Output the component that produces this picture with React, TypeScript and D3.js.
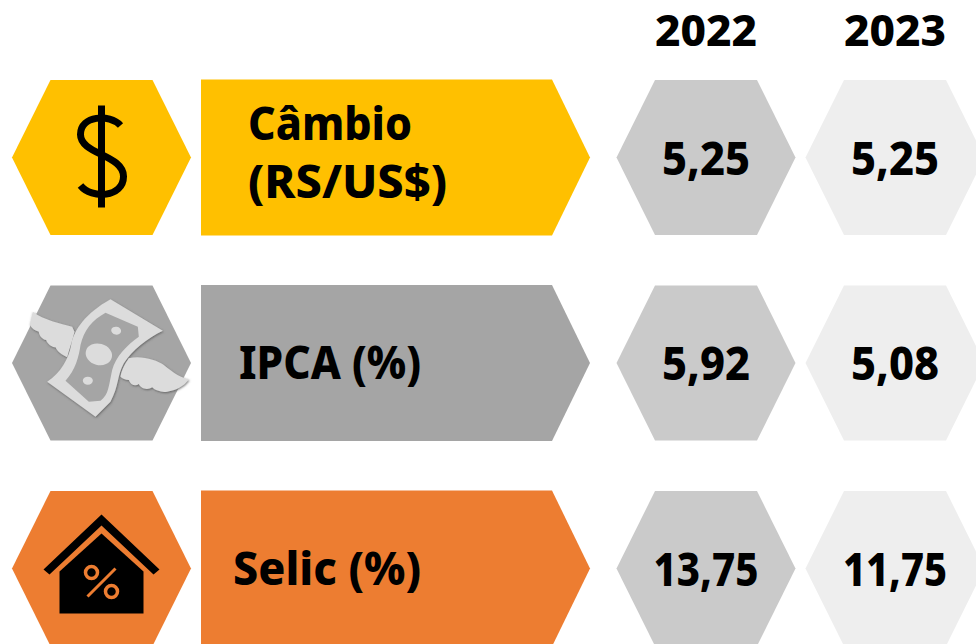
import { useEffect, useRef } from 'react'
import * as d3 from 'd3'

const years = ['2022', '2023']
const indicators = ['Câmbio', 'IPCA', 'Selic']
const labelLines = [['Câmbio', '(RS/US$)'], ['IPCA (%)'], ['Selic (%)']]
const labelX = [248, 239, 233]
const values2022 = ['5,25', '5,92', '13,75']
const values2023 = ['5,25', '5,08', '11,75']
const rowColors = ['#ffc000', '#a5a5a5', '#ed7d31']
const yearColors = ['#cacaca', '#eeeeee']

const FONT = '"Noto Sans", sans-serif'
const W = 976
const H = 644

// icon outlines, traced at 3x around the hexagon centre
const billOuter = 'M330,88 L487,182 C440,205 395,240 370,280 C350,315 355,350 330,395 L285,440 L140,335 C180,310 205,265 212,225 C220,180 255,130 330,88 Z'
const billInner = 'M315,128 L412,170 L415,200 C380,225 345,260 335,300 C325,345 325,375 300,392 L265,395 L195,332 C225,300 235,260 240,225 C250,180 275,150 315,128 Z'
const wingLeft = 'M97,125 C130,150 180,160 215,170 L222,185 C215,215 205,240 200,262 C185,255 170,245 165,232 C155,232 140,222 137,210 C125,208 115,195 115,185 C100,180 85,170 90,155 Z'
const wingRight = 'M385,265 C420,255 470,270 490,285 C520,310 545,325 565,328 C550,350 525,362 500,365 C485,368 465,362 455,352 C440,362 420,355 415,342 C405,350 390,345 385,330 C375,330 365,325 360,320 C365,295 375,280 385,265 Z'
const billSpots = [[347, 182, 15, 12, 10], [295, 253, 40, 32, 15], [262, 332, 15, 12, 0]]
const roof: [number, number][] = [[-58, 1], [0, -54], [58, 1], [52, 6], [0, -43], [-52, 6]]
const house: [number, number][] = [[-42, 3], [0, -35], [42, 3], [42, 45], [-42, 45]]

const closed = d3.line().curve(d3.curveLinearClosed)

function hexagon(cx: number, cy: number) {
  const hw = 89.5
  const inset = 38.5
  const hh = 77.5
  return closed([
    [cx - hw, cy], [cx - hw + inset, cy - hh], [cx + hw - inset, cy - hh],
    [cx + hw, cy], [cx + hw - inset, cy + hh], [cx - hw + inset, cy + hh],
  ])
}

// the reference font is narrower than Noto Sans, so text is fitted by width
function fit(sel: any, width: number) {
  return sel.attr('textLength', width).attr('lengthAdjust', 'spacingAndGlyphs')
}

function App() {
  const svgRef = useRef<SVGSVGElement>(null)

  useEffect(() => {
    const svg = d3.select(svgRef.current)
    svg.selectAll('*').remove()

    const rowY = d3.scalePoint<string>().domain(indicators).range([157.5, 568.5])
    const colX = d3.scalePoint<string>().domain(years).range([706, 895])
    const iconX = 101.5

    const labelWidths = [[164, 199], [182], [188]]
    const valueWidths = [[88, 88], [88, 88], [105, 104]]

    const defs = svg.append('defs')
    const shadow = defs.append('filter').attr('id', 'bill-shadow').attr('x', '-20%').attr('y', '-20%').attr('width', '150%').attr('height', '150%')
    shadow.append('feDropShadow').attr('dx', 2).attr('dy', 3).attr('stdDeviation', 3).attr('flood-color', '#555').attr('flood-opacity', 0.8)

    // year headers
    years.forEach((year) => {
      fit(svg.append('text')
        .attr('class', 'year')
        .attr('x', colX(year)!)
        .attr('y', 46)
        .attr('text-anchor', 'middle')
        .attr('font-family', FONT)
        .attr('font-weight', 800)
        .attr('font-size', 43)
        .text(year), 102)
    })

    indicators.forEach((name, i) => {
      const cy = rowY(name)!
      const row = svg.append('g').attr('class', 'row')

      row.append('path').attr('d', hexagon(iconX, cy)).attr('fill', rowColors[i])

      // arrow shaped label
      row.append('path')
        .attr('d', closed([[201, cy - 78], [552, cy - 78], [590, cy], [552, cy + 78], [201, cy + 78]]))
        .attr('fill', rowColors[i])

      const lines = labelLines[i]
      lines.forEach((line, j) => {
        fit(row.append('text')
          .attr('x', labelX[i])
          .attr('y', lines.length > 1 ? cy - 18 + j * 58 : cy + 16)
          .attr('font-family', FONT)
          .attr('font-weight', 800)
          .attr('font-size', 46)
          .text(line), labelWidths[i][j])
      })

      const vals = [values2022[i], values2023[i]]
      years.forEach((year, k) => {
        const cx = colX(year)!
        row.append('path').attr('d', hexagon(cx, cy)).attr('fill', yearColors[k])
        fit(row.append('text')
          .attr('x', cx)
          .attr('y', cy + 17)
          .attr('text-anchor', 'middle')
          .attr('font-family', FONT)
          .attr('font-weight', 800)
          .attr('font-size', 46)
          .text(vals[k]), valueWidths[i][k])
      })

      const icon = row.append('g').attr('transform', `translate(${iconX},${cy})`)
      if (i === 0) {
        icon.append('path')
          .attr('d', 'M19,-32 C8,-44 -21,-42 -21,-23 C-21,-3 22,-3 22,19 C22,40 -10,42 -21,28')
          .attr('fill', 'none')
          .attr('stroke', '#000')
          .attr('stroke-width', 7)
        icon.append('line').attr('x1', 0).attr('x2', 0).attr('y1', -52).attr('y2', 50).attr('stroke', '#000').attr('stroke-width', 7)
      } else if (i === 1) {
        const g = icon.append('g')
          .attr('transform', 'scale(0.3333) translate(-303,-279)')
          .attr('filter', 'url(#bill-shadow)')
          .attr('fill', '#dcdcdc')
        g.append('path').attr('d', wingLeft)
        g.append('path').attr('d', wingRight)
        g.append('path').attr('d', billOuter)
        g.append('path').attr('d', billInner).attr('fill', '#a5a5a5')
        g.selectAll('ellipse')
          .data(billSpots)
          .enter()
          .append('ellipse')
          .attr('rx', (d) => d[2])
          .attr('ry', (d) => d[3])
          .attr('transform', (d) => `translate(${d[0]},${d[1]}) rotate(${d[4]})`)
      } else {
        icon.append('path').attr('d', closed(roof)).attr('fill', '#000')
        icon.append('path').attr('d', closed(house)).attr('fill', '#000')
        icon.append('circle').attr('cx', -10).attr('cy', 4).attr('r', 6).attr('fill', 'none').attr('stroke', rowColors[i]).attr('stroke-width', 3.5)
        icon.append('circle').attr('cx', 10).attr('cy', 23).attr('r', 6).attr('fill', 'none').attr('stroke', rowColors[i]).attr('stroke-width', 3.5)
        icon.append('line').attr('x1', -14).attr('y1', 28).attr('x2', 14).attr('y2', 0).attr('stroke', rowColors[i]).attr('stroke-width', 3)
      }
    })
  }, [])

  return (
    <svg
      ref={svgRef}
      width={W}
      height={H}
      style={{ position: 'absolute', left: 0, top: 0, background: '#fff' }}
    ></svg>
  )
}

export default App
